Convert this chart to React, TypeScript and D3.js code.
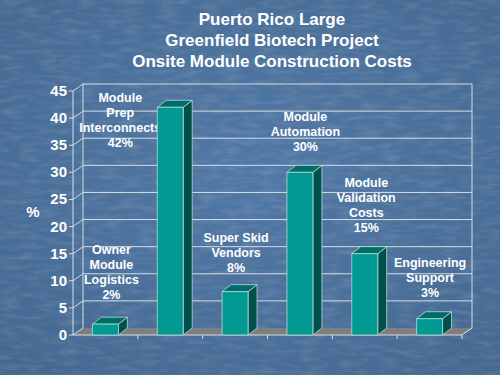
import React from "react";
import * as d3 from "d3";

const titleLines = ["Puerto Rico Large", "Greenfield Biotech Project", "Onsite Module Construction Costs"];
const categories = ["Owner Module Logistics", "Module Prep Interconnects", "Super Skid Vendors", "Module Automation", "Module Validation Costs", "Engineering Support"];
const values = [2, 42, 8, 30, 15, 3];
const labelLines = [
  ["Owner", "Module", "Logistics", "2%"],
  ["Module", "Prep", "Interconnects", "42%"],
  ["Super Skid", "Vendors", "8%"],
  ["Module", "Automation", "30%"],
  ["Module", "Validation", "Costs", "15%"],
  ["Engineering", "Support", "3%"],
];
const yTicks = [0, 5, 10, 15, 20, 25, 30, 35, 40, 45];
const yAxisLabel = "%";

// layout: label anchor offsets (px from band centre) and top-line value level
const labelLayout = [
  { dx: 6, v: 14.9 },
  { dx: -50, v: 43 },
  { dx: 1, v: 17.2 },
  { dx: 5.5, v: 39.5 },
  { dx: 1.5, v: 27.3 },
  { dx: 0.5, v: 12.6 },
];

const W = 500, H = 375;
const DX = 10, DY = -7;
const BDX = 9, BDY = -7;
const FONT = "'Liberation Sans', Arial, sans-serif";
const LINE = "#d5dde6";

export default function App() {
  const x = d3.scaleBand<string>().domain(categories).range([73, 462]).paddingInner(0.6).paddingOuter(0.3);
  const y = d3.scaleLinear().domain([0, 45]).range([335, 91]);
  const x0 = 73, x1 = 462;
  const y0 = y(0);
  const yTop = y(45);

  return (
    <svg width={W} height={H} style={{ position: "absolute", left: 0, top: 0 }}>
      <defs>
        <filter id="tex" x="0" y="0" width="100%" height="100%">
          <feTurbulence type="fractalNoise" baseFrequency="0.05 0.2" numOctaves="3" seed="4" />
          <feColorMatrix type="matrix" values="0 0 0 0 1  0 0 0 0 1  0 0 0 0 1  0 0 0 -2 1.2" />
        </filter>
        <radialGradient id="bg" cx="50%" cy="45%" r="75%">
          <stop offset="0%" stopColor="#5179a6" />
          <stop offset="100%" stopColor="#44678f" />
        </radialGradient>
      </defs>
      <rect width={W} height={H} fill="url(#bg)" />
      <rect width={W} height={H} filter="url(#tex)" opacity={0.12} />

      {titleLines.map((t, i) => (
        <text key={i} x={272} y={25 + i * 21} textAnchor="middle" fill="#ffffff" fontFamily={FONT} fontWeight="bold" fontSize={17}>
          {t}
        </text>
      ))}

      {/* floor */}
      <path d={`M${x0},${y0} L${x1},${y0} L${x1 + DX},${y0 + DY} L${x0 + DX},${y0 + DY} Z`} fill="#7f7f7f" />
      <line x1={x0} x2={x1} y1={y0} y2={y0} stroke={LINE} strokeWidth={1.2} />
      <line x1={x1} x2={x1 + DX} y1={y0} y2={y0 + DY} stroke={LINE} strokeWidth={1} />

      {/* back wall grid */}
      {yTicks.filter((t) => t > 0).map((t) => (
        <line key={t} x1={x0 + DX} x2={x1 + DX} y1={y(t) + DY} y2={y(t) + DY} stroke={LINE} strokeWidth={1} />
      ))}
      <line x1={x0 + DX} x2={x0 + DX} y1={yTop + DY} y2={y0 + DY} stroke={LINE} strokeWidth={1} />
      <line x1={x1 + DX} x2={x1 + DX} y1={yTop + DY} y2={y0 + DY} stroke={LINE} strokeWidth={1} />

      {/* front axis with slanted ticks */}
      <line x1={x0} x2={x0} y1={yTop} y2={y0} stroke={LINE} strokeWidth={1} />
      {yTicks.map((t) => (
        <g key={t}>
          <line x1={x0 - 4} x2={x0} y1={y(t)} y2={y(t)} stroke={LINE} strokeWidth={1} />
          <line x1={x0} x2={x0 + DX} y1={y(t)} y2={y(t) + DY} stroke={LINE} strokeWidth={1} />
          <text x={67} y={y(t) + 5} textAnchor="end" fill="#ffffff" fontFamily={FONT} fontWeight="bold" fontSize={15}>
            {t}
          </text>
        </g>
      ))}
      {/* category ticks */}
      {categories.map((c, i) => {
        const xx = x0 + x.step() * (i + 1);
        return <line key={c} x1={xx} x2={xx} y1={y0} y2={y0 + 4} stroke={LINE} strokeWidth={1} />;
      })}

      <text x={33} y={217} textAnchor="middle" fill="#ffffff" fontFamily={FONT} fontWeight="bold" fontSize={15}>
        {yAxisLabel}
      </text>

      {/* labels (drawn beneath bars) */}
      {labelLines.map((lines, i) => {
        const cx = (x(categories[i]) ?? 0) + x.bandwidth() / 2 + labelLayout[i].dx;
        const ty = y(labelLayout[i].v);
        return (
          <text key={i} textAnchor="middle" fill="#ffffff" fontFamily={FONT} fontWeight="bold" fontSize={12.5}>
            {lines.map((l, j) => (
              <tspan key={j} x={cx} y={ty + j * 15}>
                {l}
              </tspan>
            ))}
          </text>
        );
      })}

      {/* bars */}
      {values.map((v, i) => {
        const bx = x(categories[i]) ?? 0;
        const bw = x.bandwidth();
        const top = y(v);
        return (
          <g key={i} stroke="#bcd6d6" strokeWidth={0.8} strokeLinejoin="round">
            <path d={`M${bx + bw},${y0} L${bx + bw + BDX},${y0 + BDY} L${bx + bw + BDX},${top + BDY} L${bx + bw},${top} Z`} fill="#00504b" />
            <path d={`M${bx},${top} L${bx + BDX},${top + BDY} L${bx + bw + BDX},${top + BDY} L${bx + bw},${top} Z`} fill="#006e68" />
            <rect x={bx} y={top} width={bw} height={y0 - top} fill="#009a93" />
          </g>
        );
      })}
    </svg>
  );
}
